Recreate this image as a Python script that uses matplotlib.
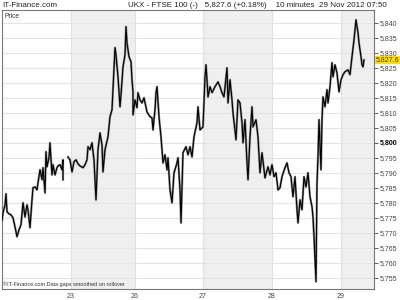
import numpy as np
import matplotlib
matplotlib.use("Agg")
import matplotlib.pyplot as plt

plt.rcParams["font.family"] = ["Liberation Sans", "DejaVu Sans"]

# time index (10 min bars, smoothed over rollover) and FTSE 100 level
t = [0, 1, 3, 4, 5, 7, 9, 11, 13, 15, 17, 19, 21, 23, 25, 26, 28, 30, 31, 33, 35, 36, 38, 40, 41,
     43, 44, 45, 47, 48, 50, 51, 53, 55, 56, 58, 60, 61, 61, 63,
     66, 68, 70, 72, 74, 76, 78, 81, 83, 85, 86, 88, 90, 92, 94, 96, 98, 100, 101, 103, 106, 108,
     110, 111, 113, 114, 116, 118, 119, 121, 123, 124, 125, 127, 129, 130, 131, 131, 133, 135,
     136, 138, 140, 142, 145, 148, 150, 151, 153, 154, 155, 157, 159, 161, 163, 165, 166, 168,
     170, 172, 175, 176, 178, 179, 181, 184, 186, 188, 190, 192, 195, 196, 198, 201, 203, 204,
     205, 206, 208, 210, 213, 216, 218, 220, 222, 225, 226, 228, 230, 231, 234, 236, 238, 240,
     241, 243, 245, 246, 248, 250, 251, 254, 256, 258, 260, 263, 266, 268, 270, 272, 274, 276,
     278, 280, 283, 285, 287, 289, 291, 293, 295, 296, 298, 300, 302, 304, 306, 308, 310, 311,
     312, 314, 315, 316, 317, 319, 320, 321, 323, 325, 326, 328, 330, 331, 333, 335, 337, 339,
     341, 343, 346, 348, 350, 352, 354, 356, 357, 359, 360, 361, 362]

price = [5774.0, 5776.7, 5779.3, 5783.0, 5777.0, 5776.3, 5776.0, 5775.0, 5772.0, 5768.7, 5771.0,
         5772.7, 5780.0, 5775.3, 5779.3, 5777.7, 5771.7, 5781.0, 5785.0, 5785.3, 5784.3, 5786.7,
         5791.0, 5787.7, 5791.7, 5783.3, 5797.0, 5792.0, 5795.0, 5800.0, 5789.3, 5792.7, 5789.3,
         5791.7, 5792.3, 5792.7, 5791.0, 5794.3, 5787.7, np.nan,
         5795.3, 5794.3, 5790.3, 5793.7, 5794.3, 5793.0, 5792.3, 5791.7, 5792.7, 5794.3, 5798.7,
         5797.7, 5800.0, 5794.3, 5781.0, 5797.7, 5803.3, 5799.3, 5790.3, 5797.7, 5802.0, 5808.7,
         5811.0, 5817.7, 5831.7, 5829.3, 5822.0, 5812.0, 5816.0, 5825.3, 5829.3, 5838.7, 5833.3,
         5828.7, 5827.0, 5821.0, 5817.0, 5809.3, 5814.3, 5811.7,
         5816.7, 5814.3, 5813.3, 5815.0, 5810.3, 5808.7, 5808.3, 5804.3, 5811.0, 5816.7, 5818.7,
         5808.7, 5802.0, 5793.3, 5796.0, 5791.0, 5795.0, 5784.3, 5780.0, 5790.0, 5793.3, 5795.0,
         5784.3, 5773.3, 5796.7, 5798.7, 5796.0, 5798.7, 5795.3, 5802.0, 5806.7, 5812.0, 5804.3,
         5805.3, 5822.0, 5826.0,
         5821.0, 5815.3, 5818.7, 5816.7, 5818.7, 5820.3, 5818.7, 5816.7, 5815.3, 5825.0, 5813.3,
         5821.0, 5814.3, 5810.0, 5801.0, 5814.3, 5813.3, 5806.7, 5800.0, 5807.7, 5793.3, 5787.7,
         5802.0, 5812.0, 5805.3, 5807.7, 5802.0, 5790.0, 5796.7, 5788.3, 5792.0, 5789.3, 5792.7,
         5788.7, 5790.0, 5784.3,
         5785.0, 5788.7, 5791.7, 5793.3, 5790.0, 5788.7, 5782.0, 5788.7, 5777.7, 5773.3, 5781.0,
         5777.7, 5788.7, 5785.3, 5790.0, 5782.0, 5778.7, 5775.3, 5768.7, 5753.7, 5786.7, 5795.3,
         5807.7, 5791.0, 5807.7, 5815.3, 5812.0, 5817.7, 5813.3, 5818.7, 5826.7, 5822.0, 5826.0,
         5823.3, 5817.0,
         5821.0, 5822.7, 5823.7, 5824.3, 5822.7, 5828.7, 5834.3, 5841.0, 5836.7, 5833.3, 5828.7,
         5826.0, 5825.3, 5827.6]

day_starts = [69, 133, 201, 270, 339]
day_labels = ["23", "26", "27", "28", "29"]
shaded_days = [(69, 133), (201, 270), (339, 372)]
y_ticks = np.arange(5755, 5841, 5)
last_price = 5827.6

fig = plt.figure(figsize=(4, 3), dpi=100)
ax = fig.add_axes([0.005, 0.037, 0.93, 0.93])

for a, b in shaded_days:
    ax.axvspan(a, b, color="#efefef", lw=0, zorder=0)
for y in y_ticks:
    ax.axhline(y, color="#e4e4e4", lw=0.8, zorder=1)
for x in day_starts:
    ax.axvline(x, color="#e0e0e0", lw=0.8, zorder=1)

ax.plot(t, price, color="#8a8a8a", lw=1.6, zorder=2)
ax.plot(t, price, color="black", lw=0.8, zorder=3)

ax.set_xlim(0, 372)
ax.set_ylim(5751.3, 5844.3)
ax.set_xticks(day_starts)
ax.set_xticklabels(day_labels)
ax.set_yticks(y_ticks)
ax.set_yticklabels([f"{v:,}" for v in y_ticks])
ax.yaxis.tick_right()
ax.tick_params(axis="y", labelsize=5, colors="#444444", length=3, pad=1, width=0.6)
ax.tick_params(axis="x", labelsize=5, colors="#444444", length=0, pad=3)
for lbl in ax.get_yticklabels():
    if lbl.get_text() == "5,800":
        lbl.set_fontweight("bold")
        lbl.set_color("black")
for s in ax.spines.values():
    s.set_color("#777777")
    s.set_linewidth(0.8)

ax.text(1.004, last_price, f"{last_price:,.1f}", transform=ax.get_yaxis_transform(),
        fontsize=5, va="center", ha="left", color="#333333",
        bbox=dict(boxstyle="square,pad=0.1", fc="#ffe000", ec="none"))

ax.text(0.006, 0.99, "Price", transform=ax.transAxes, fontsize=4.8, va="top", color="#333333")
ax.text(0.004, 0.008, "\u00a9IT-Finance.com Data gaps smoothed on rollover", transform=ax.transAxes,
        fontsize=4.0, va="bottom", color="#333333")

fig.text(0.005, 0.983, "IT-Finance.com", fontsize=5.8, va="center", color="#222222")
fig.text(0.968, 0.983, "UKX - FTSE 100 (-)   5,827.6 (+0.18%)    10 minutes  29 Nov 2012 07:50",
         fontsize=5.8, va="center", ha="right", color="#222222")

fig.savefig("out.png", dpi=100)
